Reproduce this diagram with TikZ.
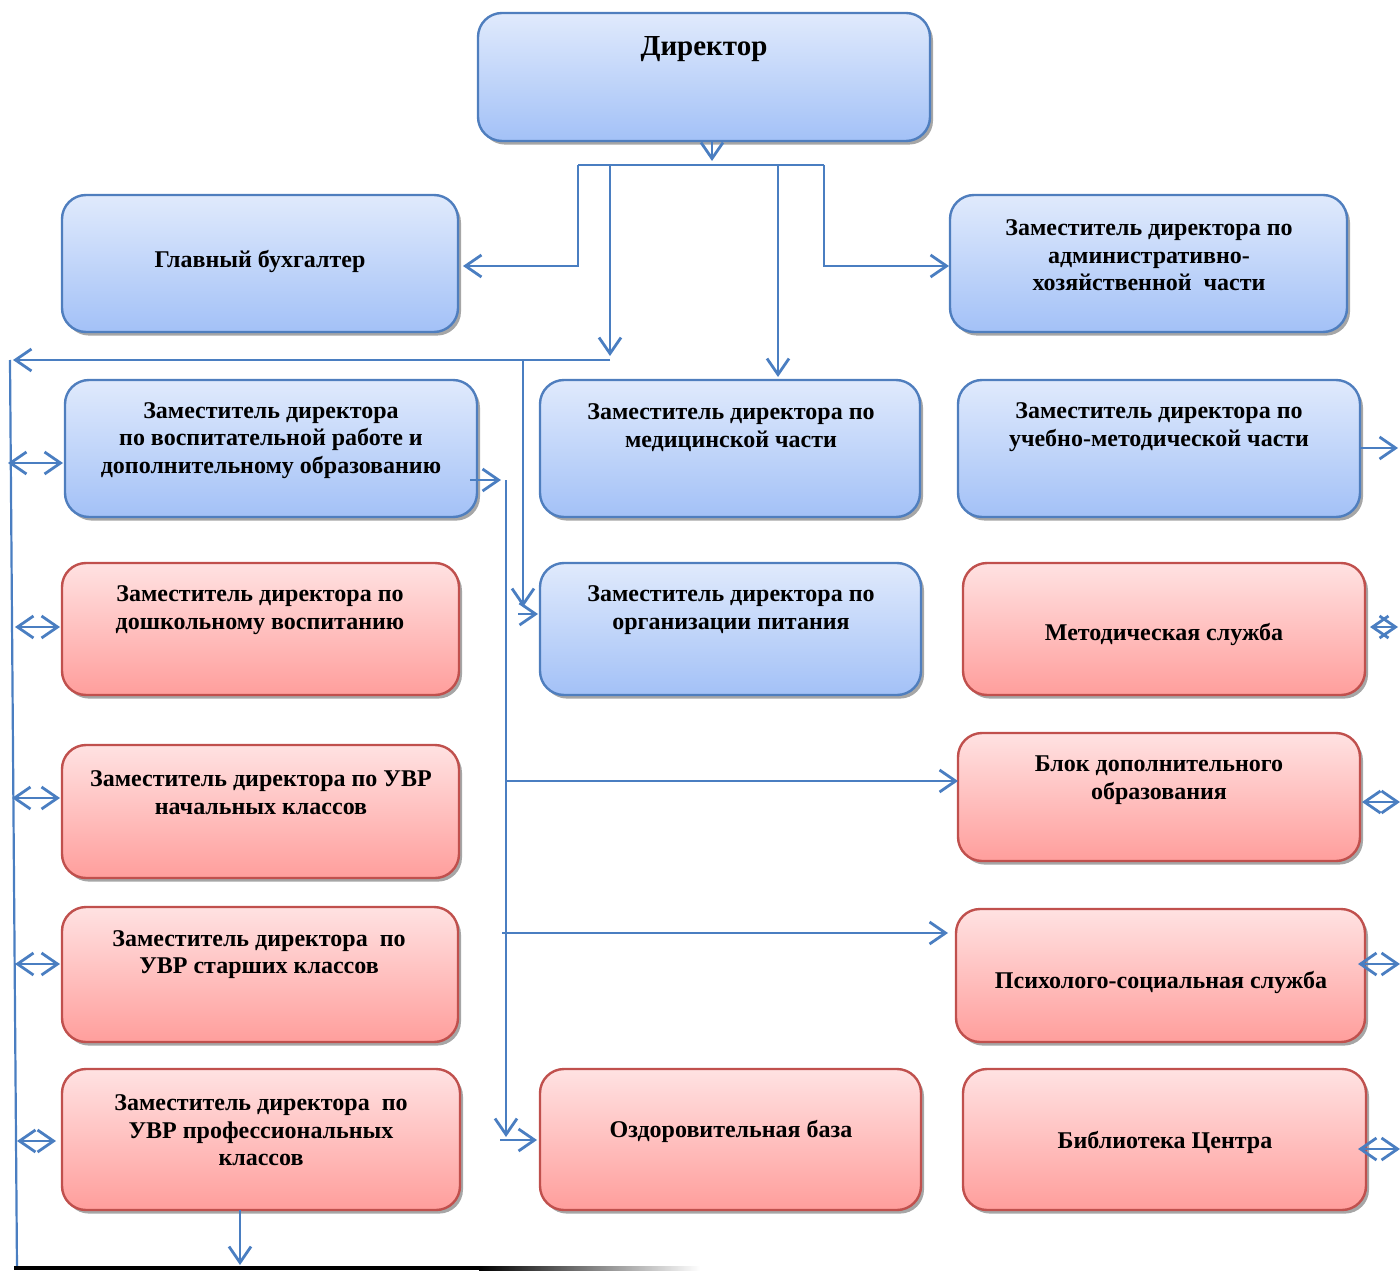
\documentclass[tikz,border=0pt]{standalone}
\usepackage{fontspec}
\setmainfont{Liberation Serif}
\usetikzlibrary{arrows.meta,shadows,calc}
\definecolor{cn}{RGB}{74,126,193}
\definecolor{bT}{RGB}{224,234,252}
\definecolor{bB}{RGB}{163,193,247}
\definecolor{bD}{RGB}{79,126,190}
\definecolor{rT}{RGB}{255,226,226}
\definecolor{rB}{RGB}{255,158,156}
\definecolor{rD}{RGB}{192,80,77}
\tikzset{
 boxbase/.style={rounded corners=12pt, line width=1.2pt, inner sep=0pt, outer sep=0pt,
   drop shadow={shadow xshift=1.5pt,shadow yshift=-1.8pt,fill=black!50,opacity=0.7}},
 bluebox/.style={boxbase, draw=bD, top color=bT, bottom color=bB},
 redbox/.style={boxbase, draw=rD, top color=rT, bottom color=rB},
 txt/.style={font=\bfseries\fontsize{12}{13.8}\selectfont, align=center, inner sep=0pt, yshift=-1.2pt},
 conn/.style={draw=cn, line width=1.4pt},
 tip/.style={-{Straight Barb[length=8pt,width=11pt]}},
 dtip/.style={{Straight Barb[length=8pt,width=11pt]}-{Straight Barb[length=8pt,width=11pt]}},
}
\newcommand\mkbox[6]{\node[#6, minimum width={(#4-#2)*0.5pt}, minimum height={(#5-#3)*0.5pt}] (#1) at ({(#2+#4)/2},{(#3+#5)/2}) {};}
\begin{document}
\begin{tikzpicture}[x=0.5pt,y=-0.5pt]
\useasboundingbox (0,0) rectangle (1400,1272);
% boxes
\mkbox{dir}{478}{13}{930}{141}{bluebox}
\mkbox{gb}{62}{195}{458}{332}{bluebox}
\mkbox{axch}{950}{195}{1347}{332}{bluebox}
\mkbox{vosp}{65}{380}{477}{517}{bluebox}
\mkbox{med}{540}{380}{920}{517}{bluebox}
\mkbox{uchm}{958}{380}{1360}{517}{bluebox}
\mkbox{dosh}{62}{563}{459}{695}{redbox}
\mkbox{pit}{540}{563}{921}{695}{bluebox}
\mkbox{metod}{963}{563}{1365}{695}{redbox}
\mkbox{nach}{62}{745}{459}{878}{redbox}
\mkbox{blok}{958}{733}{1360}{861}{redbox}
\mkbox{star}{62}{907}{458}{1042}{redbox}
\mkbox{psi}{956}{909}{1365}{1042}{redbox}
\mkbox{prof}{62}{1069}{460}{1210}{redbox}
\mkbox{ozd}{540}{1069}{921}{1210}{redbox}
\mkbox{bib}{963}{1069}{1366}{1210}{redbox}
% texts
\node[txt,font=\bfseries\fontsize{14.5}{16}\selectfont] (t1) at (704,47) {Директор};
\node[txt] (t2) at (260,259) {Главный бухгалтер};
\node[txt] (t3) at (1149,253) {Заместитель директора по\\административно-\\хозяйственной\ \ части};
\node[txt] (t4) at (271,438) {Заместитель директора\\по воспитательной работе и\\дополнительному образованию};
\node[txt] (t5) at (731,425) {Заместитель директора по\\медицинской части};
\node[txt] (t6) at (1159,425) {Заместитель директора по\\учебно-методической части};
\node[txt] (t7) at (260,608) {Заместитель директора по\\дошкольному воспитанию};
\node[txt] (t8) at (731,608) {Заместитель директора по\\организации питания};
\node[txt] (t9) at (1164,632) {Методическая служба};
\node[txt] (t10) at (261,790) {Заместитель директора по УВР\\начальных классов};
\node[txt] (t11) at (1159,778) {Блок дополнительного\\образования};
\node[txt] (t12) at (259,952) {Заместитель директора\ \ по\\УВР старших классов};
\node[txt] (t13) at (1161,980) {Психолого-социальная служба};
\node[txt] (t14) at (261,1128) {Заместитель директора\ \ по\\УВР профессиональных\\классов};
\node[txt] (t15) at (731,1129) {Оздоровительная база};
\node[txt] (t16) at (1165,1140) {Библиотека Центра};
% coordinates
\coordinate (j0) at (712,165);
\coordinate (jL) at (578,165);
\coordinate (jR) at (824,165);
\coordinate (j1) at (610,165);
\coordinate (j2) at (778,165);
\coordinate (g0) at (578,266);
\coordinate (k0) at (824,266);
\coordinate (a1) at (610,356);
\coordinate (h1) at (610,360);
\coordinate (hL) at (13,360);
\coordinate (h2) at (523,360);
\coordinate (a2) at (523,607);
\coordinate (p0) at (518,614);
\coordinate (railT) at (10,360);
\coordinate (railB) at (17,1268);
\coordinate (v0) at (470,480);
\coordinate (v1) at (506,480);
\coordinate (v2) at (506,1137);
\coordinate (o0) at (500,1140);
\coordinate (b0) at (506,781);
\coordinate (s0) at (502,933);
\coordinate (d0) at (240,1265);
\coordinate (l1) at (8,463);
\coordinate (l2) at (15,627);
\coordinate (l3) at (12,798);
\coordinate (l4) at (15,964);
\coordinate (l5) at (17,1141);
\coordinate (r1) at (1398,448);
\coordinate (r2s) at (1370,627);
\coordinate (r2) at (1398,627);
\coordinate (r3s) at (1362,802);
\coordinate (r3) at (1400,802);
\coordinate (r4s) at (1358,964);
\coordinate (r4) at (1400,964);
\coordinate (r5s) at (1358,1149);
\coordinate (r5) at (1400,1149);
% connectors
\draw[conn,tip,shorten >=2pt] (dir.south -| j0) -- (j0);
\draw[conn] (jL) -- (jR);
\draw[conn,tip,shorten >=2.5pt] (jL) |- (g0 -| gb.east);
\draw[conn,tip] (j1) -- (a1);
\draw[conn,tip,shorten >=1.5pt] (j2) -- (j2 |- med.north);
\draw[conn,tip,shorten >=0.5pt] (jR) |- (k0 -| axch.west);
\draw[conn,tip] (h1) -- (hL);
\draw[conn,line width=1.1pt] (railT) -- (railB);
\draw[conn,tip] (h2) -- (a2);
\draw[conn,tip,shorten >=1pt] (p0) -- (p0 -| pit.west);
\draw[conn,tip,shorten >=2.5pt] (v0) -- (v1);
\draw[conn,tip] (v1) -- (v2);
\draw[conn,tip,shorten >=1.5pt] (o0) -- (o0 -| ozd.west);
\draw[conn,tip] (b0) -- (b0 -| blok.west);
\draw[conn,tip,shorten >=4pt] (s0) -- (s0 -| psi.west);
\draw[conn,tip] (d0 |- prof.south) -- (d0);
\draw[conn,dtip,shorten >=1pt] (l1) -- (l1 -| vosp.west);
\draw[conn,dtip,shorten >=1pt] (l2) -- (l2 -| dosh.west);
\draw[conn,dtip,shorten >=1pt] (l3) -- (l3 -| nach.west);
\draw[conn,dtip,shorten >=1pt] (l4) -- (l4 -| star.west);
\draw[conn,dtip,shorten >=3pt] (l5) -- (l5 -| prof.west);
\draw[conn,tip] (r1 -| uchm.east) -- (r1);
\draw[conn,dtip] (r2s) -- (r2);
\draw[conn,dtip] (r3s) -- (r3);
\draw[conn,dtip] (r4s) -- (r4);
\draw[conn,dtip] (r5s) -- (r5);
% bottom line
\fill[black] (14,1266) rectangle (480,1270);
\shade[left color=black,right color=white] (479,1266) rectangle (700,1270);
\end{tikzpicture}
\end{document}
